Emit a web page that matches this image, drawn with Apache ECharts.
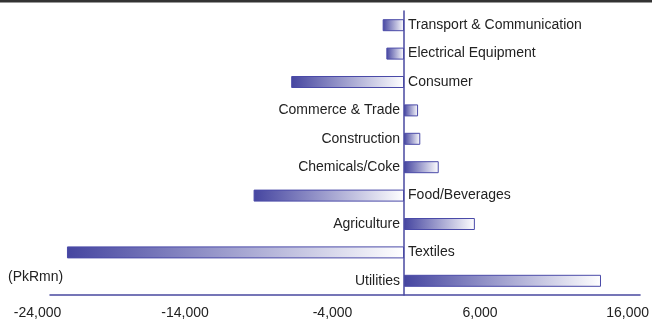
<!DOCTYPE html>
<html>
<head>
<meta charset="utf-8">
<script src="https://cdn.jsdelivr.net/npm/echarts@6/dist/echarts.min.js"></script>
<style>
html,body{margin:0;padding:0;background:#fff;}
#chart{width:652px;height:325px;}
</style>
</head>
<body>
<div id="chart"></div>
<script>
var categories = ['Transport & Communication','Electrical Equipment','Consumer','Commerce & Trade','Construction','Chemicals/Coke','Food/Beverages','Agriculture','Textiles','Utilities'];
var values = [-1450, -1200, -7650, 950, 1100, 2350, -10200, 4800, -22850, 13350];
var axisMin = -24000, axisMax = 16000, axisStep = 10000;
var unitLabel = '(PkRmn)';

var FONT = '"Liberation Sans", Arial, sans-serif';
var chart = echarts.init(document.getElementById('chart'), null, {renderer:'canvas'});

var grad = new echarts.graphic.LinearGradient(0, 0, 1, 0, [
  {offset: 0, color: '#4545a0'},
  {offset: 1, color: '#ffffff'}
]);

var dataItems = values.map(function (v, i) {
  return {
    value: v,
    label: {
      show: true,
      position: v < 0 ? 'right' : 'left',
      distance: 4,
      formatter: categories[i]
    }
  };
});

chart.setOption({
  animation: false,
  grid: {left: 50, right: 11, top: 11, bottom: 30, containLabel: false},
  xAxis: {
    type: 'value',
    min: axisMin, max: axisMax, interval: axisStep,
    splitLine: {show: false},
    axisTick: {show: false},
    axisLine: {show: true, onZero: false, lineStyle: {color: '#4848a0', width: 1.5}},
    axisLabel: {
      fontFamily: FONT, fontSize: 14, color: '#222', margin: 11,
      padding: [0, 25, 0, 0],
      formatter: function (v) { return v.toLocaleString('en-US'); }
    }
  },
  yAxis: {
    type: 'category',
    data: categories,
    inverse: true,
    axisTick: {show: false},
    axisLabel: {show: false},
    axisLine: {show: true, onZero: true, lineStyle: {color: '#4848a0', width: 1.5}},
    z: 10
  },
  series: [{
    type: 'bar',
    data: dataItems,
    barWidth: 12,
    itemStyle: {color: grad, borderColor: '#4a4aa8', borderWidth: 1},
    label: {fontFamily: FONT, fontSize: 14, color: '#222'}
  }],
  graphic: [
    {type: 'rect', left: 0, top: 0, shape: {width: 652, height: 2.5}, style: {fill: '#333'}},
    {type: 'text', left: 8, top: 270, style: {text: unitLabel, font: '14px ' + FONT, fill: '#222'}}
  ]
});
</script>
</body>
</html>
